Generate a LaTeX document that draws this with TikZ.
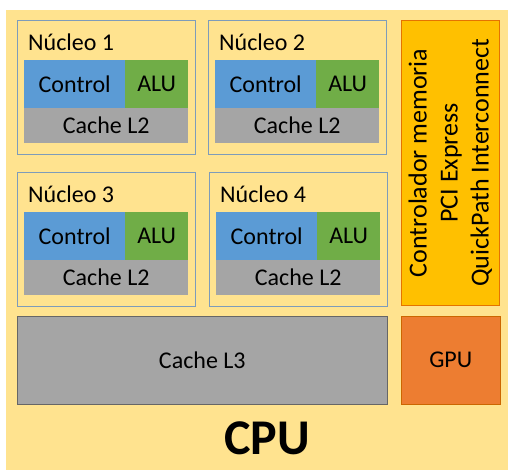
\documentclass[tikz,border=0pt]{standalone}
\usepackage{fontspec}
\setmainfont{Carlito}
\definecolor{bgy}{HTML}{FFE38F}
\definecolor{cblue}{HTML}{5B9BD5}
\definecolor{cgreen}{HTML}{70AD47}
\definecolor{cgray}{HTML}{A5A5A5}
\definecolor{corange}{HTML}{FFC000}
\definecolor{cgpu}{HTML}{ED7D31}
\definecolor{coreline}{HTML}{7E9CBA}
\begin{document}
\begin{tikzpicture}[x=1pt,y=-1pt,
  blk/.style={draw=none,inner sep=0pt,anchor=north west,font=\fontsize{24}{28}\selectfont},
  corebox/.style={draw=coreline,line width=0.9pt,fill=bgy,inner sep=0pt,anchor=north west,minimum width=178pt,minimum height=134pt},
  ttl/.style={anchor=west,inner sep=0pt,font=\fontsize{24}{28}\selectfont}]
\useasboundingbox (0,0) rectangle (512,476);
\fill[white] (0,0) rectangle (512,476);
\node[fill=bgy,inner sep=0pt,anchor=north west,minimum width=502pt,minimum height=460pt] (cpu) at (6,10) {};
\foreach \n/\ox/\oy in {1/17/20,2/208/20,3/17/172,4/209/172}{
  \node[corebox] (core\n) at (\ox,\oy) {};
  \node[ttl] (title\n) at (\ox+11,\oy+22) {Núcleo \n};
  \node[blk,fill=cblue,minimum width=101pt,minimum height=48pt] (ctl\n) at (\ox+7,\oy+40) {Control};
  \node[blk,fill=cgreen,minimum width=63pt,minimum height=48pt] (alu\n) at (\ox+108,\oy+40) {ALU};
  \node[blk,fill=cgray,minimum width=164pt,minimum height=35pt] (ltwo\n) at (\ox+7,\oy+88) {Cache L2};
}
\node[blk,draw=gray!80!black,line width=0.6pt,fill=cgray,minimum width=370pt,minimum height=88pt] (lthree) at (17,316) {Cache L3};
\node[blk,draw=orange!80!black,line width=0.6pt,fill=cgpu,minimum width=99pt,minimum height=88pt] (gpu) at (401,316) {GPU};
\node[blk,draw=orange!90!black,line width=0.6pt,fill=corange,minimum width=98pt,minimum height=285pt] (ctrl) at (401,20) {};
\node[rotate=90,align=center,inner sep=0pt,font=\fontsize{26}{31}\selectfont] (ctrltext) at (ctrl.center) {Controlador memoria\\PCI Express\\QuickPath Interconnect};
\node[inner sep=0pt,font=\fontsize{50}{56}\bfseries\selectfont] (cputext) at (267,438) {CPU};
\end{tikzpicture}
\end{document}
